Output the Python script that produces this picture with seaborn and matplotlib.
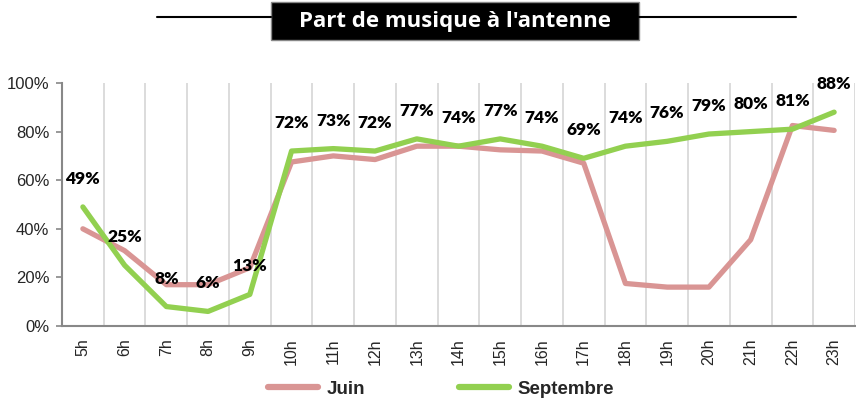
import pandas as pd
import matplotlib.pyplot as plt
import seaborn as sns
from matplotlib.lines import Line2D

hours = ["5h", "6h", "7h", "8h", "9h", "10h", "11h", "12h", "13h", "14h",
         "15h", "16h", "17h", "18h", "19h", "20h", "21h", "22h", "23h"]
juin = [0.40, 0.31, 0.17, 0.17, 0.24, 0.675, 0.70, 0.685, 0.74, 0.74,
        0.725, 0.72, 0.67, 0.175, 0.16, 0.16, 0.355, 0.825, 0.805]
septembre = [0.49, 0.25, 0.08, 0.06, 0.13, 0.72, 0.73, 0.72, 0.77, 0.74,
             0.77, 0.74, 0.69, 0.74, 0.76, 0.79, 0.80, 0.81, 0.88]
series = ["Juin", "Septembre"]
colors = {"Juin": "#D99594", "Septembre": "#92D050"}

df = pd.DataFrame({
    "heure": hours * 2,
    "part": juin + septembre,
    "mois": ["Juin"] * len(hours) + ["Septembre"] * len(hours),
})

sns.set_style("white")
plt.rcParams['font.family'] = ['Liberation Sans', 'DejaVu Sans']

fig = plt.figure(figsize=(8.56, 4.03), dpi=100)
ax = fig.add_axes([62 / 856, 1 - 326 / 403, 793 / 856, 243 / 403])

sns.lineplot(data=df, x="heure", y="part", hue="mois", palette=colors,
             linewidth=3.8, sort=False, legend=False, ax=ax)

# labels for septembre values
for i, v in enumerate(septembre):
    ax.annotate(f"{v:.0%}", (i, v), xytext=(0, 28), textcoords="offset pixels",
                ha="center", va="center", fontsize=12.5, fontweight="heavy",
                family="Lato", color="black", annotation_clip=False)

ax.set_xlim(-0.5, len(hours) - 0.5)
ax.set_ylim(0, 1)
ax.set_yticks([0, 0.2, 0.4, 0.6, 0.8, 1.0])
ax.set_yticklabels(["0%", "20%", "40%", "60%", "80%", "100%"], fontsize=12)
ax.set_xticks(range(len(hours)))
ax.set_xticklabels(hours, rotation=90, fontsize=11.5)
ax.set_xticks([i - 0.5 for i in range(len(hours) + 1)], minor=True)
ax.tick_params(axis="x", which="major", length=0, pad=9)
ax.tick_params(axis="x", which="minor", length=5, width=1.2, color="#888888")
ax.tick_params(axis="y", length=4, width=1.2, color="#888888", pad=5, left=True)
ax.grid(False)
ax.grid(True, axis="x", which="minor", color="#d9d9d9", linewidth=1.3)
ax.set_xlabel("")
ax.set_ylabel("")
for side in ["top", "right"]:
    ax.spines[side].set_visible(False)
for side in ["left", "bottom"]:
    ax.spines[side].set_color("#888888")
    ax.spines[side].set_linewidth(1.5)

# legend
handles = [Line2D([], [], color=colors[s], linewidth=4.5, solid_capstyle="round") for s in series]
fig.legend(handles, series, loc="center", bbox_to_anchor=(441 / 856, 1 - 389 / 403),
           ncol=2, frameon=False, handlelength=2.67, handletextpad=0.45,
           columnspacing=5.0, prop={"weight": "bold", "size": 13.5})

# title with black box and side lines
fig.add_artist(Line2D([157 / 856, 271 / 856], [1 - 17 / 403] * 2, color="black", linewidth=1.5))
fig.add_artist(Line2D([639 / 856, 796 / 856], [1 - 17 / 403] * 2, color="black", linewidth=1.5))
fig.patches.append(plt.Rectangle((271 / 856, 1 - 40 / 403), 368 / 856, 38 / 403,
                                 transform=fig.transFigure, facecolor="black",
                                 edgecolor="#888888", linewidth=1))
fig.text(455 / 856, 1 - 21 / 403, "Part de musique à l'antenne", ha="center", va="center",
         color="white", fontsize=16, fontweight="bold", family="Open Sans")

fig.savefig("out.png", dpi=100)
